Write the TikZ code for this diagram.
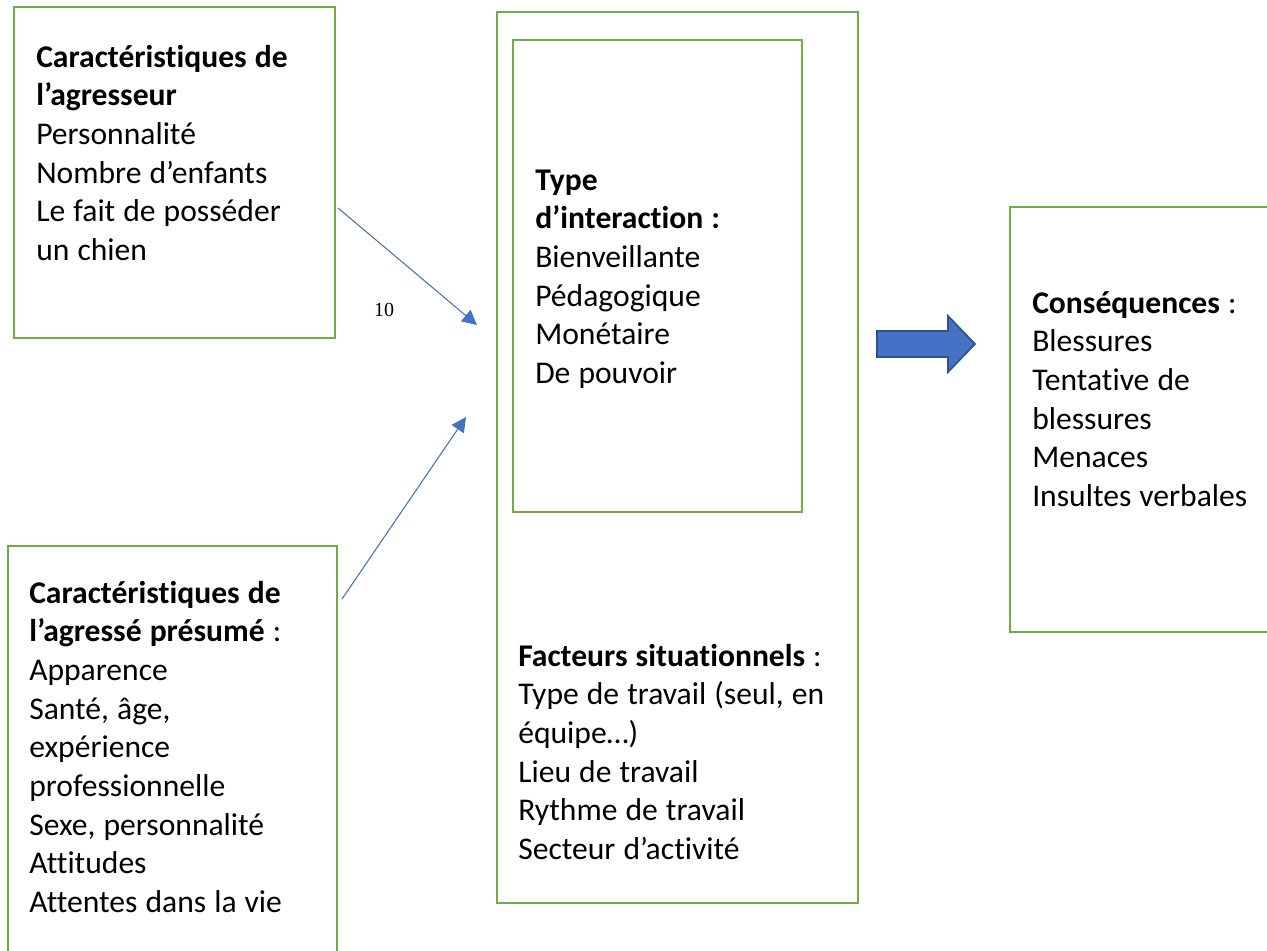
\documentclass[tikz,border=0pt]{standalone}
\usepackage{fontspec}
\setmainfont{Carlito}[Ligatures=NoCommon]
\newfontfamily\timesf{Liberation Serif}
\usetikzlibrary{arrows.meta}
\definecolor{boxgreen}{HTML}{70AD47}
\definecolor{arrowblue}{HTML}{4472C4}
\definecolor{arrowedge}{HTML}{2F528F}
\newcommand\boxfont{\fontsize{23.7}{29}\selectfont}
\newcommand\tightspaces{\spaceskip=0.255em\relax}
\begin{document}
\begin{tikzpicture}[x=0.75pt,y=-0.75pt,
  box/.style={draw=boxgreen,line width=1.6pt,anchor=north west,inner sep=0pt,outer sep=0pt},
  txt/.style={anchor=base west,inner sep=0pt,align=left,text width=250pt,font=\boxfont,execute at begin node=\tightspaces},
  link/.style={draw=arrowblue,line width=0.8pt,-{Triangle[length=11pt,width=11pt]}},
  bigarrow/.style={fill=arrowblue,draw=arrowedge,line width=1.3pt,line join=miter}]
\useasboundingbox (0,0) rectangle (1267,950);
\clip (0,0) rectangle (1267,950);
% boxes
\node[box,minimum width=240.75pt,minimum height=248.25pt] (agr) at (14,7) {};
\node[box,minimum width=246.75pt,minimum height=325.5pt] (vic) at (8,546) {};
\node[box,minimum width=270.75pt,minimum height=668.25pt] (sit) at (497,12) {};
\node[box,minimum width=216.75pt,minimum height=354pt] (int) at (513,40) {};
\node[box,minimum width=217.5pt,minimum height=318.75pt] (cons) at (1010,207) {};
% texts
\node[txt] (tagr) at (36,67) {\textbf{Caractéristiques de}\\\textbf{l’agresseur}\\Personnalité\\Nombre d’enfants\\Le fait de posséder\\un chien};
\node[txt] (tvic) at (29,603) {\textbf{Caractéristiques de}\\\textbf{l’agressé présumé} :\\Apparence\\Santé, âge,\\expérience\\professionnelle\\Sexe, personnalité\\Attitudes\\Attentes dans la vie};
\node[txt] (tint) at (535,190) {\textbf{Type}\\\textbf{d’interaction :}\\Bienveillante\\Pédagogique\\Monétaire\\De pouvoir};
\node[txt] (tsit) at (518,666) {\textbf{Facteurs situationnels} :\\Type de travail (seul, en\\équipe…)\\Lieu de travail\\Rythme de travail\\Secteur d’activité};
\node[txt] (tcons) at (1032,313) {\textbf{Conséquences} :\\Blessures\\Tentative de\\blessures\\Menaces\\Insultes verbales};
% label
\node[font=\timesf\fontsize{15}{18}\selectfont,inner sep=0pt] (lbl) at (384,310) {10};
% connectors
\coordinate (a1s) at (338,208);
\coordinate (a1e) at (477,325);
\coordinate (a2s) at (342,599);
\coordinate (a2e) at (466,417);
\draw[link] (a1s) -- (a1e);
\draw[link] (a2s) -- (a2e);
% block arrow
\draw[bigarrow] (877,331) -- (948,331) -- (948,316) -- (975,344) -- (948,372) -- (948,357) -- (877,357) -- cycle;
\end{tikzpicture}
\end{document}
